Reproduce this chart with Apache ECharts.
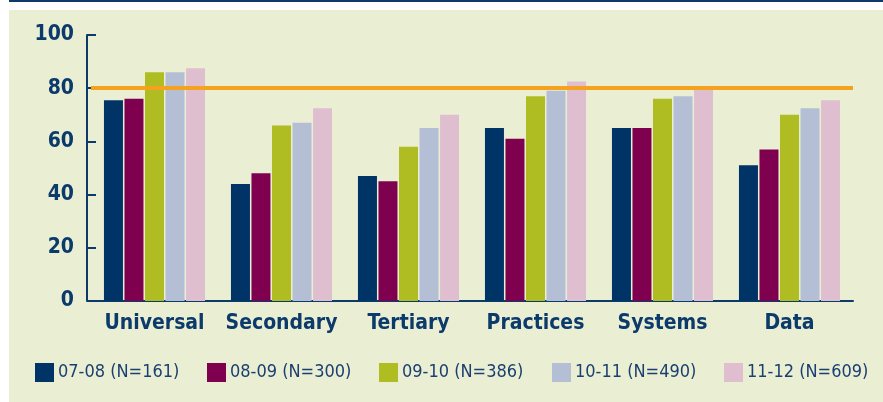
<!DOCTYPE html>
<html>
<head>
<meta charset="utf-8">
<script src="https://cdn.jsdelivr.net/npm/echarts@6/dist/echarts.min.js"></script>
<style>
html,body{margin:0;padding:0;background:#fff;}
#c{width:883px;height:402px;}
</style>
</head>
<body>
<div id="c"></div>
<script>
const categories = ['Universal', 'Secondary', 'Tertiary', 'Practices', 'Systems', 'Data'];
const seriesNames = ['07-08 (N=161)', '08-09 (N=300)', '09-10 (N=386)', '10-11 (N=490)', '11-12 (N=609)'];
const s0708 = [75.5, 44, 47, 65, 65, 51];
const s0809 = [76, 48, 45, 61, 65, 57];
const s0910 = [86, 66, 58, 77, 76, 70];
const s1011 = [86, 67, 65, 79, 77, 72.5];
const s1112 = [87.5, 72.5, 70, 82.5, 79.5, 75.5];
const yTicks = [0, 20, 40, 60, 80, 100];
const target = 80;

const colors = ['#003366', '#7F004F', '#AFBC22', '#B4BFD6', '#DFBFCF'];
const navy = '#0B3A6B';
const FONT = '"DejaVu Sans Condensed", "Liberation Sans Narrow", sans-serif';
const values = [s0708, s0809, s0910, s1011, s1112];
const legendLefts = [35, 207, 379, 552, 724];

const chart = echarts.init(document.getElementById('c'), null, {renderer: 'canvas'});
chart.setOption({
  animation: false,
  textStyle: {fontFamily: FONT},
  graphic: [
    {type: 'rect', z: -10, silent: true, shape: {x: 9, y: 10, width: 874, height: 392}, style: {fill: '#EAEFD4'}},
    {type: 'rect', z: -10, silent: true, shape: {x: 9, y: 0, width: 874, height: 2}, style: {fill: '#0B3A6B'}}
  ],
  grid: {left: 91, right: 30, top: 35, bottom: 101},
  legend: seriesNames.map((n, i) => ({
    data: [n], left: legendLefts[i], top: 363, icon: 'rect',
    itemWidth: 19, itemHeight: 19, padding: 0,
    selectedMode: false,
    textStyle: {fontFamily: FONT, fontSize: 18, color: '#1B3F70', padding: [0, 0, 0, -1]}
  })),
  xAxis: {
    type: 'category', data: categories,
    axisLine: {lineStyle: {color: navy, width: 2}},
    axisTick: {inside: true, length: 6, lineStyle: {color: navy, width: 2}},
    axisLabel: {interval: 0, fontFamily: FONT, fontWeight: 'bold', fontSize: 21, color: '#0B3A6B', margin: 12}
  },
  yAxis: {
    type: 'value', min: 0, max: 100, interval: 20, offset: 4,
    axisLine: {show: true, lineStyle: {color: navy, width: 2}},
    axisTick: {show: true, inside: true, length: 9, lineStyle: {color: navy, width: 2}},
    splitLine: {show: false},
    axisLabel: {fontFamily: FONT, fontWeight: 'bold', fontSize: 21, color: '#0B3A6B', margin: 13,
      formatter: v => yTicks.includes(v) ? String(v) : ''}
  },
  series: seriesNames.map((n, i) => ({
    name: n, type: 'bar', data: values[i], barWidth: 19, barGap: '8%',
    itemStyle: {color: colors[i]},
    markLine: i === 0 ? {
      silent: true, symbol: 'none', z: 10,
      label: {show: false},
      lineStyle: {color: '#F5A21F', width: 4, type: 'solid'},
      data: [{yAxis: target}]
    } : undefined
  }))
});
</script>
</body>
</html>
